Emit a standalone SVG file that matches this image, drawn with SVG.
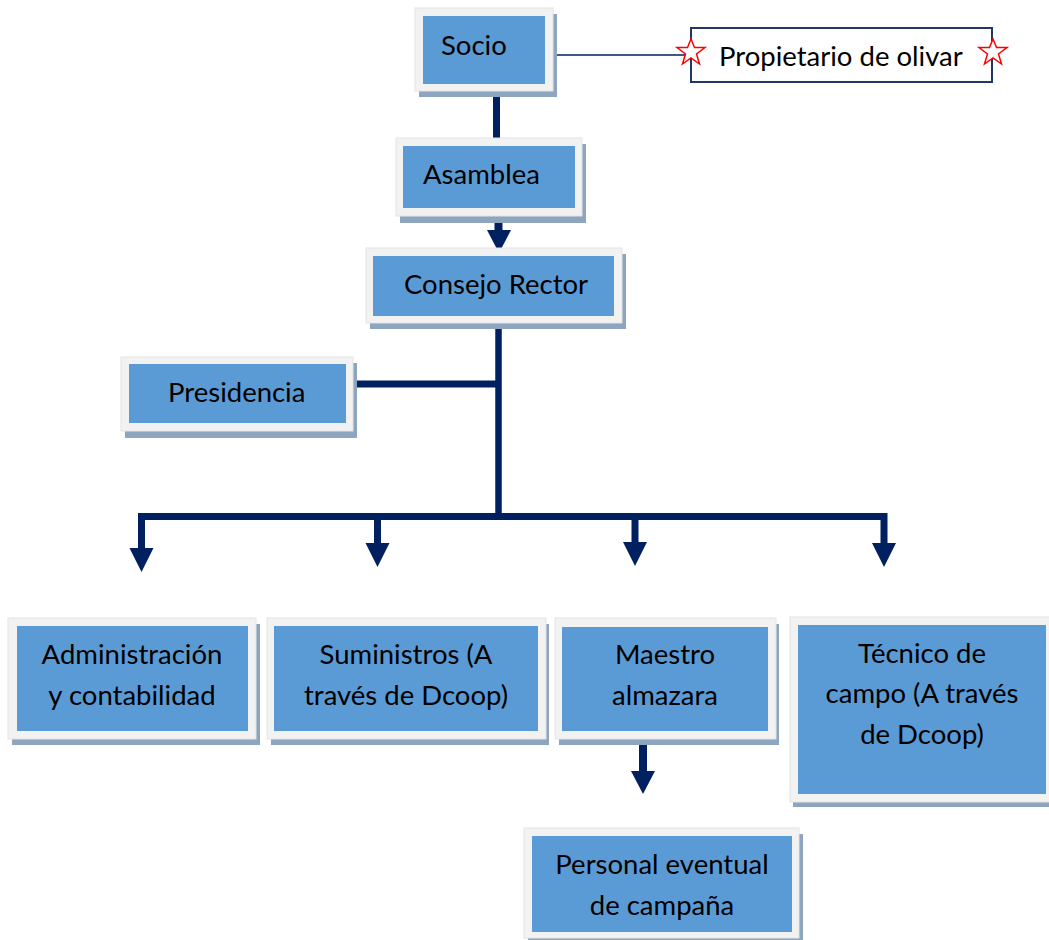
<svg xmlns="http://www.w3.org/2000/svg" width="1049" height="940" viewBox="0 0 1049 940">
<style>
.sh{fill:#8EA5BF}
.fr{fill:#F2F2F2;stroke:#E4E4E4;stroke-width:1}
.bl{fill:#5B9BD5}
.t{font-family:Lato,"Open Sans",sans-serif;font-size:27.5px;fill:#000}
.c{text-anchor:middle}
.ln{stroke:#002060;fill:none;stroke-linejoin:miter;stroke-linecap:butt}
.ah{fill:#002060}
.star{fill:#fff;stroke:#FF0000;stroke-width:1.5;stroke-linejoin:miter}
</style>
<rect width="1049" height="940" fill="#fff"/>
<g id="connectors">
<line class="ln" x1="557" y1="55" x2="690" y2="55" stroke-width="1.5"/>
<line class="ln" x1="496.5" y1="96" x2="496.5" y2="140" stroke-width="7"/>
<line class="ln" x1="498.5" y1="216" x2="498.5" y2="232" stroke-width="8"/>
<polygon class="ah" points="487,230 511,230 499,253"/>
<line class="ln" x1="498.5" y1="323" x2="498.5" y2="517" stroke-width="6.5"/>
<line class="ln" x1="353" y1="384" x2="498" y2="384" stroke-width="7"/>
<path class="ln" d="M141.5 550 V516.5 H884 V545" stroke-width="7"/>
<line class="ln" x1="377.5" y1="516" x2="377.5" y2="545" stroke-width="7"/>
<line class="ln" x1="635" y1="516" x2="635" y2="544" stroke-width="7"/>
<polygon class="ah" points="129.5,548 153.5,548 141.5,572"/>
<polygon class="ah" points="365.5,543 389.5,543 377.5,567"/>
<polygon class="ah" points="623,542 647,542 635,566"/>
<polygon class="ah" points="872,543 896,543 884,567"/>
<line class="ln" x1="643" y1="745" x2="643" y2="773" stroke-width="8"/>
<polygon class="ah" points="631,771 655,771 643,794"/>
</g>
<g id="socio">
<rect class="sh" x="419" y="14" width="138" height="83"/>
<rect class="fr" x="415" y="8" width="138" height="83"/>
<rect class="bl" x="423" y="16" width="122" height="68"/>
<text class="t" x="441" y="55">Socio</text>
</g>
<g id="propietario">
<rect x="691" y="28" width="301" height="54" fill="#fff" stroke="#1F3864" stroke-width="2"/>
<text class="t" x="719" y="66">Propietario de olivar</text>
<polygon class="star" transform="translate(691,52)" points="0,-13 3.5,-4.5 14,-4.5 5.5,2 8.5,12 0,6 -8.5,12 -5.5,2 -14,-4.5 -3.5,-4.5"/>
<polygon class="star" transform="translate(993,52)" points="0,-13 3.5,-4.5 14,-4.5 5.5,2 8.5,12 0,6 -8.5,12 -5.5,2 -14,-4.5 -3.5,-4.5"/>
</g>
<g id="asamblea">
<rect class="sh" x="400" y="144" width="186" height="79"/>
<rect class="fr" x="396" y="138" width="186" height="78"/>
<rect class="bl" x="403" y="146" width="172" height="62"/>
<text class="t" x="423" y="184">Asamblea</text>
</g>
<g id="consejo">
<rect class="sh" x="370" y="254" width="256" height="75"/>
<rect class="fr" x="366" y="248" width="256" height="75"/>
<rect class="bl" x="373" y="256" width="241" height="60"/>
<text class="t" x="404" y="294">Consejo Rector</text>
</g>
<g id="presidencia">
<rect class="sh" x="125" y="363" width="232" height="75"/>
<rect class="fr" x="121" y="357" width="232" height="74"/>
<rect class="bl" x="129" y="364" width="217" height="59"/>
<text class="t" x="168" y="402">Presidencia</text>
</g>
<g id="administracion">
<rect class="sh" x="12" y="624" width="248" height="121"/>
<rect class="fr" x="8" y="618" width="248" height="121"/>
<rect class="bl" x="17" y="626" width="231" height="105"/>
<text class="t c" x="132" y="664">Administración</text>
<text class="t c" x="132" y="705">y contabilidad</text>
</g>
<g id="suministros">
<rect class="sh" x="271" y="624" width="278" height="121"/>
<rect class="fr" x="267" y="618" width="279" height="121"/>
<rect class="bl" x="274" y="626" width="264" height="105"/>
<text class="t c" x="406" y="664">Suministros (A</text>
<text class="t c" x="406" y="705">través de Dcoop)</text>
</g>
<g id="maestro">
<rect class="sh" x="559" y="624" width="220" height="121"/>
<rect class="fr" x="555" y="618" width="221" height="121"/>
<rect class="bl" x="562" y="627" width="206" height="104"/>
<text class="t c" x="665" y="664">Maestro</text>
<text class="t c" x="665" y="705">almazara</text>
</g>
<g id="tecnico">
<rect class="sh" x="793" y="622" width="260" height="185"/>
<rect class="fr" x="790" y="617" width="264" height="185"/>
<rect class="bl" x="798" y="625" width="248" height="169"/>
<text class="t c" x="922" y="663">Técnico de</text>
<text class="t c" x="922" y="703">campo (A través</text>
<text class="t c" x="922" y="744">de Dcoop)</text>
</g>
<g id="personal">
<rect class="sh" x="528" y="834" width="275" height="110"/>
<rect class="fr" x="524" y="828" width="275" height="110"/>
<rect class="bl" x="532" y="836" width="260" height="96"/>
<text class="t c" x="662" y="874">Personal eventual</text>
<text class="t c" x="662" y="915">de campaña</text>
</g>
</svg>
